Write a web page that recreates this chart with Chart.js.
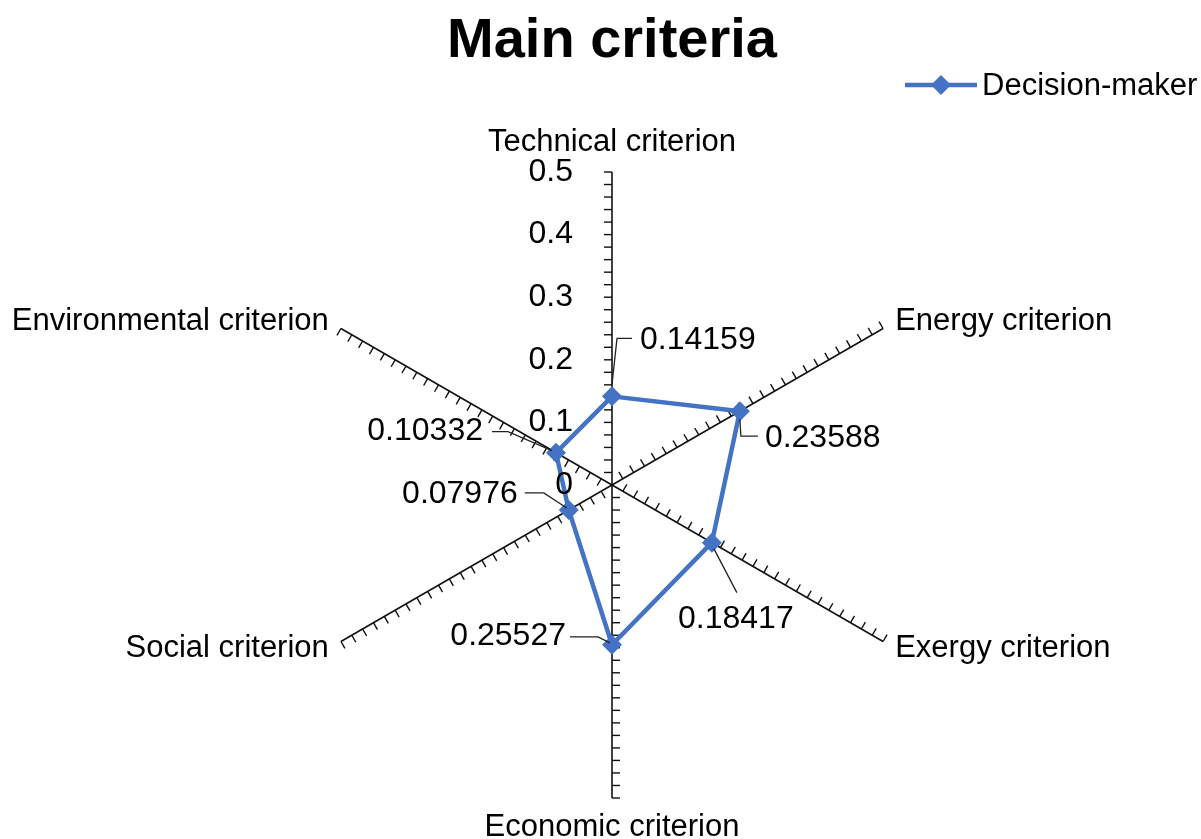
<!DOCTYPE html>
<html>
<head>
<meta charset="utf-8">
<script src="https://cdn.jsdelivr.net/npm/chart.js@4.4.1/dist/chart.umd.min.js"></script>
<style>
  html, body { margin: 0; padding: 0; background: #fff; }
  #wrap { width: 1201px; height: 839px; }
</style>
</head>
<body>
<div id="wrap"><canvas id="radar" width="1201" height="839"></canvas></div>
<script>
// --- data ---
const categories = ['Technical criterion', 'Energy criterion', 'Exergy criterion',
                    'Economic criterion', 'Social criterion', 'Environmental criterion'];
const weights = [0.14159, 0.23588, 0.18417, 0.25527, 0.07976, 0.10332];
const tickValues = [0, 0.1, 0.2, 0.3, 0.4, 0.5];
const seriesName = 'Decision-maker';

const FONT = "'Liberation Sans', Arial, sans-serif";
const BLUE = '#4472C4';

// where each value label sits relative to its marker, plus its leader line
const labelStyle = [
    { dx: 28, dy: -56, align: 'left', leader: [[0, -12], [5, -58], [20, -58]] },
    { dx: 25, dy: 27, align: 'left', leader: [[0, 8], [1, 25], [18, 25]] },
    { dx: 24, dy: 77, align: 'center', leader: [[2, 6], [25, 50]] },
    { dx: -46, dy: -9, align: 'right', leader: [[-42, -8], [-14, -8], [-2, -2]] },
    { dx: -51, dy: -16, align: 'right', leader: [[-44, -17], [-25, -17], [-2, -2]] },
    { dx: -73, dy: -21, align: 'right', leader: [[-64, -21], [-48, -21], [-4, -2]] }
];

// spoke minor ticks, tick labels, point labels, value labels, title, legend
const excelRadar = {
    id: 'excelRadar',
    beforeDatasetsDraw(chart) {
        const ctx = chart.ctx;
        const r = chart.scales.r;
        ctx.save();
        // minor ticks on every spoke, on the left side looking outward
        ctx.strokeStyle = '#111';
        ctx.lineWidth = 1.4;
        for (let i = 0; i < categories.length; i++) {
            const a = r.getIndexAngle(i) - Math.PI / 2;
            const nx = Math.cos(a - Math.PI / 2), ny = Math.sin(a - Math.PI / 2);
            for (let k = 1; k <= 25; k++) {
                const p = r.getPointPositionForValue(i, k * 0.02);
                ctx.beginPath();
                ctx.moveTo(p.x, p.y);
                ctx.lineTo(p.x + nx * 8, p.y + ny * 8);
                ctx.stroke();
            }
        }
        ctx.restore();
    },
    afterDatasetsDraw(chart) {
        const ctx = chart.ctx;
        const r = chart.scales.r;
        const n = categories.length;
        ctx.save();

        // value axis labels along the first spoke
        ctx.fillStyle = '#000';
        ctx.font = '32px ' + FONT;
        ctx.textAlign = 'right';
        ctx.textBaseline = 'middle';
        tickValues.forEach(v => {
            const p = r.getPointPositionForValue(0, v);
            ctx.fillText(String(v), p.x - 39, p.y);
        });

        // category labels
        ctx.font = '31px ' + FONT;
        for (let i = 0; i < n; i++) {
            const p = r.getPointPosition(i, r.drawingArea + 14);
            const ang = r.getIndexAngle(i);
            const sx = Math.sin(ang), cy = Math.cos(ang);
            ctx.textAlign = Math.abs(sx) < 0.1 ? 'center' : (sx > 0 ? 'left' : 'right');
            ctx.textBaseline = Math.abs(sx) < 0.1 ? (cy > 0 ? 'bottom' : 'top') : 'middle';
            ctx.fillText(categories[i], p.x, p.y);
        }

        // value labels with leader lines
        const meta = chart.getDatasetMeta(0);
        ctx.strokeStyle = '#222';
        ctx.lineWidth = 1.3;
        ctx.font = '32px ' + FONT;
        meta.data.forEach((pt, i) => {
            const s = labelStyle[i];
            ctx.beginPath();
            s.leader.forEach(([lx, ly], j) => {
                if (j === 0) ctx.moveTo(pt.x + lx, pt.y + ly);
                else ctx.lineTo(pt.x + lx, pt.y + ly);
            });
            ctx.stroke();
            ctx.textAlign = s.align;
            ctx.textBaseline = 'middle';
            ctx.fillText(weights[i].toFixed(5), pt.x + s.dx, pt.y + s.dy);
        });

        // title
        ctx.font = 'bold 56px ' + FONT;
        ctx.textAlign = 'center';
        ctx.fillText('Main criteria', r.xCenter, 42);

        // legend
        ctx.strokeStyle = BLUE;
        ctx.lineWidth = 4.5;
        ctx.beginPath();
        ctx.moveTo(905, 85);
        ctx.lineTo(977, 85);
        ctx.stroke();
        ctx.fillStyle = BLUE;
        ctx.beginPath();
        ctx.moveTo(941, 75); ctx.lineTo(951, 85); ctx.lineTo(941, 95); ctx.lineTo(931, 85);
        ctx.closePath();
        ctx.fill();
        ctx.fillStyle = '#000';
        ctx.font = '31px ' + FONT;
        ctx.textAlign = 'left';
        ctx.fillText(seriesName, 982, 86);

        ctx.restore();
    }
};

new Chart(document.getElementById('radar'), {
    type: 'radar',
    data: {
        labels: categories,
        datasets: [{
            label: seriesName,
            data: weights,
            borderColor: BLUE,
            backgroundColor: BLUE,
            borderWidth: 4.5,
            fill: false,
            pointStyle: 'rectRot',
            pointRadius: 10,
            pointBorderWidth: 0,
            pointBackgroundColor: BLUE
        }]
    },
    options: {
        responsive: false,
        animation: false,
        layout: { padding: { left: 299, right: 276, top: 172, bottom: 41 } },
        plugins: {
            legend: { display: false },
            title: { display: false },
            tooltip: { enabled: false }
        },
        scales: {
            r: {
                min: 0,
                max: 0.5,
                grid: { display: false },
                angleLines: { display: true, color: '#111', lineWidth: 1.6 },
                ticks: { display: false, stepSize: 0.1 },
                pointLabels: { display: false }
            }
        }
    },
    plugins: [excelRadar]
});
</script>
</body>
</html>
